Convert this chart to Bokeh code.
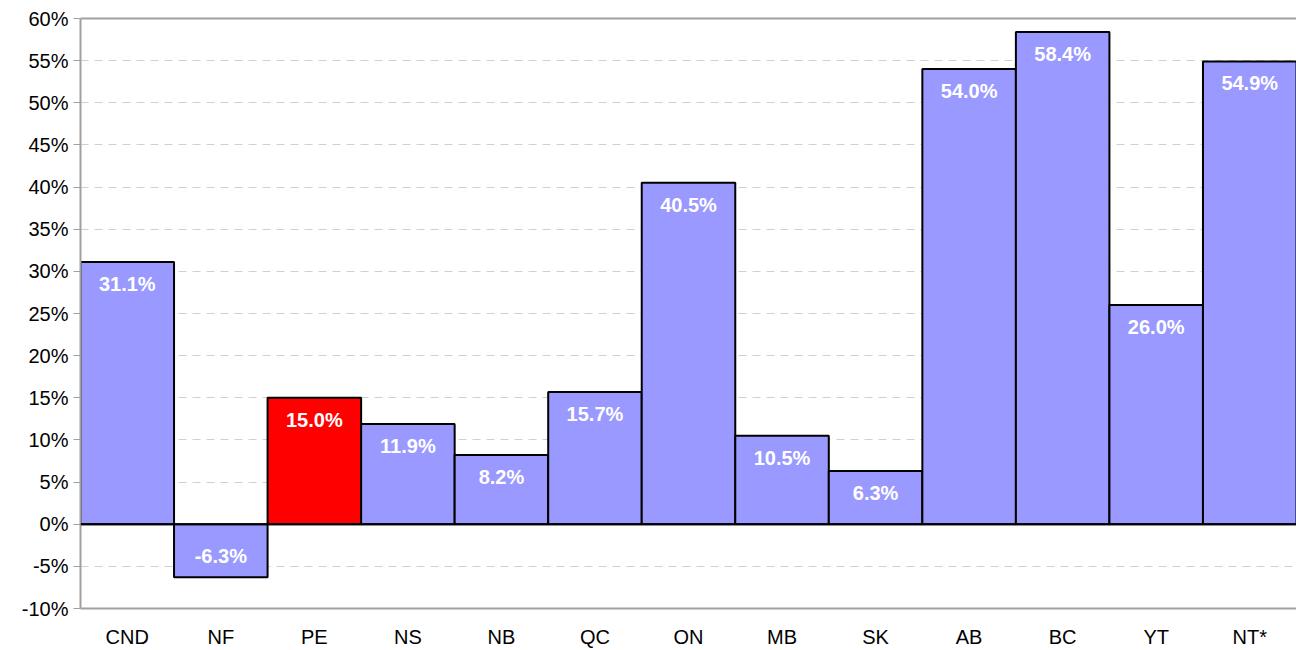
from bokeh.plotting import figure
from bokeh.models import (ColumnDataSource, FactorRange, Range1d, FixedTicker,
                          PrintfTickFormatter, Span, LinearAxis)
from bokeh.core.properties import value
from bokeh.embed import file_html
from bokeh.resources import INLINE

regions = ["CND", "NF", "PE", "NS", "NB", "QC", "ON", "MB", "SK", "AB", "BC", "YT", "NT*"]
growth = [31.1, -6.3, 15.0, 11.9, 8.2, 15.7, 40.5, 10.5, 6.3, 54.0, 58.4, 26.0, 54.9]
highlight = "PE"
y_ticks = list(range(-10, 61, 5))

FONT = "Liberation Sans"
colors = ["#FF0000" if r == highlight else "#9999FF" for r in regions]
labels = [f"{v:.1f}%" for v in growth]
label_y = [v - 2.6 if v >= 0 else v + 2.5 for v in growth]

src = ColumnDataSource(dict(x=regions, top=growth, color=colors, label=labels, ly=label_y))

p = figure(x_range=FactorRange(*regions, range_padding=0), y_range=Range1d(-10, 60),
           width=1296, height=650, output_backend="svg", toolbar_location=None,
           min_border_left=80, min_border_right=0, min_border_top=18, min_border_bottom=37)
p.outline_line_color = None
p.background_fill_color = "white"

p.vbar(x="x", top="top", bottom=0, width=1.0, fill_color="color",
       line_color="black", line_width=2, source=src)

p.add_layout(Span(location=0, dimension="width", line_color="black", line_width=2))

p.text(x="x", y="ly", text="label", source=src, text_color="white",
       text_font=value(FONT), text_font_size="20px", text_font_style="bold",
       text_align="center", text_baseline="middle")

p.yaxis.ticker = FixedTicker(ticks=y_ticks)
p.yaxis.formatter = PrintfTickFormatter(format="%d%%")
p.yaxis.major_label_text_font = FONT
p.yaxis.major_label_text_font_size = "20px"
p.yaxis.major_label_text_color = "black"
p.yaxis.axis_line_color = "#A0A0A0"
p.yaxis.axis_line_width = 2
p.yaxis.major_tick_line_color = "#A0A0A0"
p.yaxis.major_tick_out = 7
p.yaxis.major_tick_in = 0
p.yaxis.minor_tick_line_color = None

p.xaxis.major_label_text_font = FONT
p.xaxis.major_label_text_font_size = "20px"
p.xaxis.major_label_text_color = "black"
p.xaxis.axis_line_color = "#A0A0A0"
p.xaxis.axis_line_width = 2
p.xaxis.major_tick_line_color = None
p.xaxis.major_label_standoff = 11

top_axis = LinearAxis(axis_line_color="#A0A0A0", axis_line_width=2,
                      major_tick_line_color=None, minor_tick_line_color=None,
                      major_label_text_font_size="0px")
top_axis.ticker = FixedTicker(ticks=[])
p.add_layout(top_axis, "above")

p.xgrid.grid_line_color = None
p.ygrid.ticker = FixedTicker(ticks=y_ticks)
p.ygrid.grid_line_color = "#D0D0D0"
p.ygrid.grid_line_dash = "8 6"
p.ygrid.grid_line_width = 1

open("out.html", "w").write(file_html(p, INLINE))
